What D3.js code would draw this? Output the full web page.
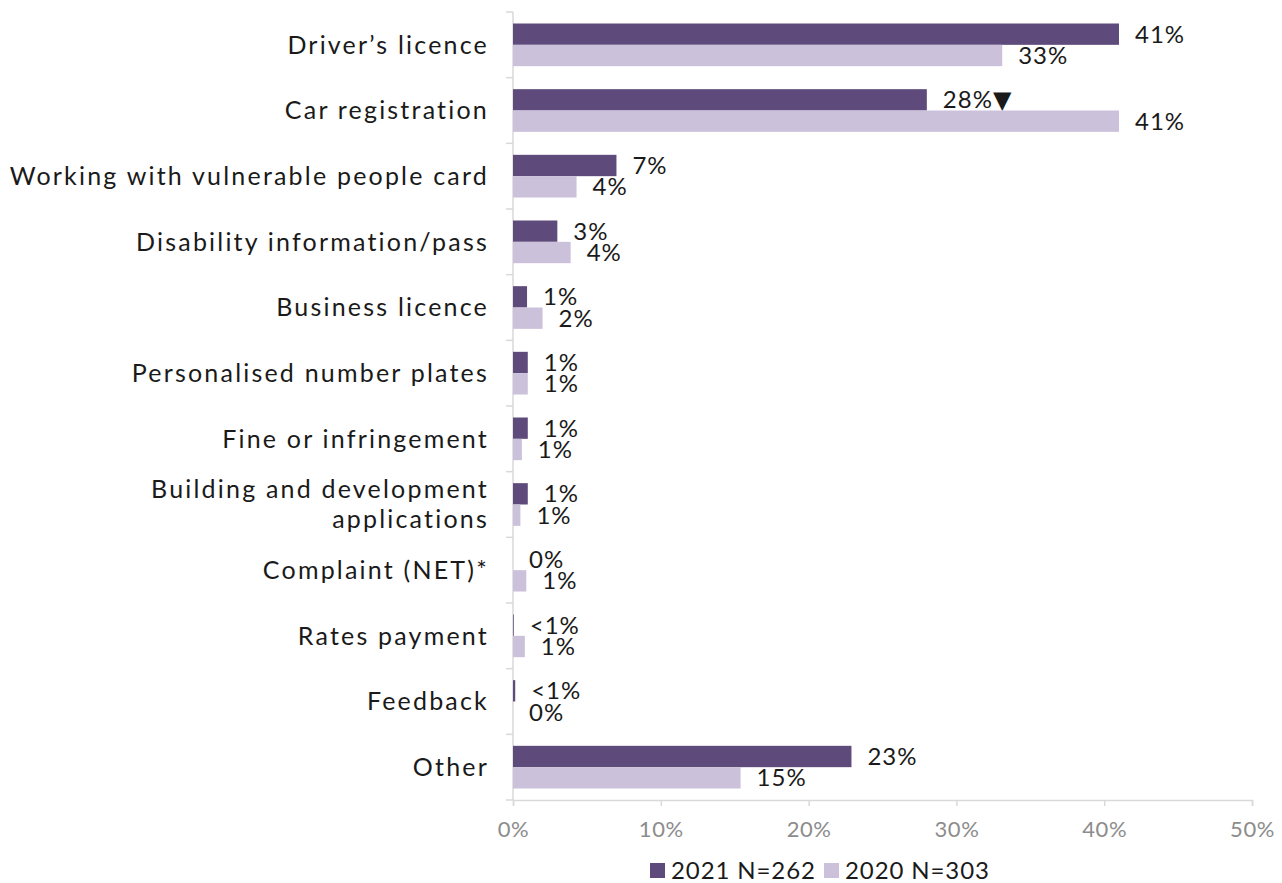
<!DOCTYPE html>
<html>
<head>
<meta charset="utf-8">
<script src="https://cdn.jsdelivr.net/npm/d3@7"></script>
<style>
  html, body { margin: 0; padding: 0; background: #fff; }
  svg text { font-family: "Lato", "DejaVu Sans", sans-serif; }
</style>
</head>
<body>
<svg id="chart" width="1282" height="883"></svg>
<script>
// Service categories, top to bottom
const categories = [
  "Driver\u2019s licence",
  "Car registration",
  "Working with vulnerable people card",
  "Disability information/pass",
  "Business licence",
  "Personalised number plates",
  "Fine or infringement",
  "Building and development|applications",
  "Complaint (NET)*",
  "Rates payment",
  "Feedback",
  "Other"
];

// Share of respondents (%) per survey year
const values2021 = [41, 28, 7, 3, 0.95, 1, 1, 1, 0, 0.05, 0.15, 22.9];
const values2020 = [33.1, 41, 4.3, 3.9, 2, 1, 0.6, 0.5, 0.9, 0.8, 0, 15.4];

// Significance markers shown after a value label
const markers2021 = ["", "\u25BC", "", "", "", "", "", "", "", "", "", ""];
const markers2020 = ["", "", "", "", "", "", "", "", "", "", "", ""];

const seriesNames = ["2021 N=262", "2020 N=303"];
const xTicks = [0, 10, 20, 30, 40, 50];

const colors = ["#5f4b7b", "#cbc1db"];

const svg = d3.select("#chart");
const margin = { left: 513, right: 30, top: 12, bottom: 83 };
const W = 1282, H = 883;

const x = d3.scaleLinear().domain([0, 50]).range([margin.left, 1252]);
const y = d3.scaleBand().domain(categories).range([margin.top, H - margin.bottom])
  .paddingInner(0.35).paddingOuter(0.175);
const ySub = d3.scaleBand().domain([0, 1]).range([0, y.bandwidth()]);

const axisColor = "#d9d9d9";

// Horizontal value axis
const xAxis = svg.append("g")
  .attr("transform", `translate(0,${H - margin.bottom})`)
  .call(d3.axisBottom(x).tickValues(xTicks).tickSize(6).tickFormat(d => d + "%"));
xAxis.select(".domain").attr("stroke", axisColor).attr("stroke-width", 1.5);
xAxis.selectAll(".tick line").attr("stroke", axisColor).attr("stroke-width", 1.5);
xAxis.selectAll(".tick text")
  .attr("fill", "#8c8c8c")
  .attr("font-size", 22)
  .attr("letter-spacing", 0.6)
  .attr("dy", "0.71em")
  .attr("y", 21);

// Vertical category axis with dividers between groups
const yAxisG = svg.append("g");
yAxisG.append("line")
  .attr("x1", x(0)).attr("x2", x(0))
  .attr("y1", margin.top).attr("y2", H - margin.bottom)
  .attr("stroke", axisColor).attr("stroke-width", 1.5);
const step = y.step();
const dividers = d3.range(categories.length + 1).map(i => margin.top + i * step);
yAxisG.selectAll("line.div").data(dividers).join("line")
  .attr("class", "div")
  .attr("x1", x(0) - 7).attr("x2", x(0))
  .attr("y1", d => d).attr("y2", d => d)
  .attr("stroke", axisColor).attr("stroke-width", 1.5);

// Category labels (a "|" marks a line break)
const catLabels = svg.append("g");
categories.forEach(c => {
  const lines = c.split("|");
  const cy = y(c) + y.bandwidth() / 2;
  const t = catLabels.append("text")
    .attr("text-anchor", "end")
    .attr("font-size", 25)
    .attr("letter-spacing", 2.2)
    .attr("fill", "#1a1a1a");
  const lh = 30;
  lines.forEach((ln, i) => {
    t.append("tspan")
      .attr("x", 489)
      .attr("y", cy + (i - (lines.length - 1) / 2) * lh)
      .attr("dy", "0.35em")
      .text(ln);
  });
});

// Bars and value labels
const series = [
  { vals: values2021, marks: markers2021 },
  { vals: values2020, marks: markers2020 }
];
const fmt = v => v === 0 ? "0%" : (v < 0.5 ? "<1%" : Math.round(v) + "%");

series.forEach((s, si) => {
  const g = svg.append("g");
  g.selectAll("rect").data(categories).join("rect")
    .attr("x", x(0))
    .attr("y", (c) => y(c) + ySub(si))
    .attr("width", (c, i) => x(s.vals[i]) - x(0))
    .attr("height", ySub.bandwidth())
    .attr("fill", colors[si]);
  g.selectAll("text").data(categories).join("text")
    .attr("x", (c, i) => x(s.vals[i]) + 16)
    .attr("y", (c) => y(c) + ySub(si) + ySub.bandwidth() / 2)
    .attr("dy", "0.36em")
    .attr("font-size", 24)
    .attr("letter-spacing", 1)
    .attr("fill", "#1a1a1a")
    .text((c, i) => fmt(s.vals[i]) + s.marks[i]);
});

// Legend
const legend = svg.append("g").attr("transform", `translate(0, 870)`);
const legendItems = [
  { x: 650, name: seriesNames[0], color: colors[0] },
  { x: 824, name: seriesNames[1], color: colors[1] }
];
legendItems.forEach(it => {
  legend.append("rect").attr("x", it.x).attr("y", -7).attr("width", 15).attr("height", 15).attr("fill", it.color);
  legend.append("text").attr("x", it.x + 21).attr("y", 0).attr("dy", "0.36em")
    .attr("font-size", 24).attr("letter-spacing", 0.9)
    .attr("fill", "#1a1a1a").text(it.name);
});
</script>
</body>
</html>
